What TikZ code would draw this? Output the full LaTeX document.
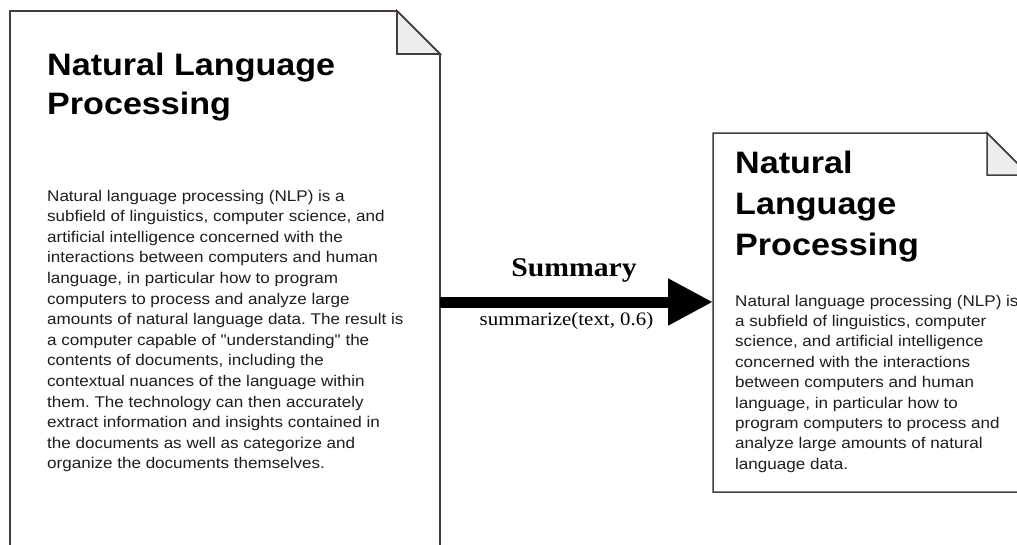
\documentclass[tikz,border=0pt]{standalone}
\usepackage{fontspec}
\usetikzlibrary{arrows.meta}
\newfontfamily\arialf[FakeStretch=1.1]{Liberation Sans}
\newfontfamily\timesf[FakeStretch=1.1]{Liberation Serif}
\definecolor{docline}{HTML}{453C3C}
\definecolor{foldfill}{HTML}{EEEEEE}
\definecolor{bodytext}{HTML}{1E1E1E}
\frenchspacing
\tikzset{
  docoutline/.style={draw=docline, line width=1.8pt, fill=white, line join=miter},
  foldtri/.style={draw=docline, line width=1.6pt, fill=foldfill, line join=miter},
  titletext/.style={anchor=base west, inner sep=0pt, font=\arialf\bfseries\fontsize{31}{40}\selectfont, text=black},
  bodytxt/.style={anchor=base west, inner sep=0pt, font=\arialf\fontsize{15.5}{20.6}\selectfont, text=bodytext},
  docbox/.style={inner sep=0pt, anchor=north west},
  bigarrow/.style={line width=11pt, -{Triangle[length=45pt, width=44pt]}, black}
}
\begin{document}
\begin{tikzpicture}[x=1pt, y=-1pt]
\useasboundingbox (0,0) rectangle (1017,544);
\clip (0,0) rectangle (1017,544);
\fill[white] (0,0) rectangle (1017,544);
% left document
\node[docbox, minimum width=430pt, minimum height=570pt] (ldoc) at (10,11) {};
\draw[docoutline] (10,11) -- (397,11) -- (440,54) -- (440,600) -- (10,600) -- cycle;
\draw[foldtri] (397,11) -- (440,54) -- (397,54) -- cycle;
\node[titletext] (ltitle) at (47,75) {\parbox[t]{380pt}{\raggedright Natural Language\\[-0.5pt]Processing}};
\node[bodytxt] (lbody) at (47,201) {\parbox[t]{390pt}{\raggedright
Natural language processing (NLP) is a\\
subfield of linguistics, computer science, and\\
artificial intelligence concerned with the\\
interactions between computers and human\\
language, in particular how to program\\
computers to process and analyze large\\
amounts of natural language data. The result is\\
a computer capable of "understanding" the\\
contents of documents, including the\\
contextual nuances of the language within\\
them. The technology can then accurately\\
extract information and insights contained in\\
the documents as well as categorize and\\
organize the documents themselves.}};
% right document
\node[docbox, minimum width=316pt, minimum height=359pt] (rdoc) at (713,133) {};
\draw[docoutline, line width=1.5pt] (713,133) -- (987,133) -- (1029,175) -- (1029,492) -- (713,492) -- cycle;
\draw[foldtri, line width=1.5pt] (987,133) -- (1029,175) -- (987,175) -- cycle;
\node[titletext, font=\arialf\bfseries\fontsize{31}{41}\selectfont] (rtitle) at (735,173) {\parbox[t]{280pt}{\raggedright Natural\\Language\\Processing}};
\node[bodytxt, font=\arialf\fontsize{15.5}{20.4}\selectfont] (rbody) at (735,306) {\parbox[t]{300pt}{\raggedright
Natural language processing (NLP) is\\
a subfield of linguistics, computer\\
science, and artificial intelligence\\
concerned with the interactions\\
between computers and human\\
language, in particular how to\\
program computers to process and\\
analyze large amounts of natural\\
language data.}};
% arrow
\draw[bigarrow] (ldoc.east |- 0,302) -- (rdoc.west |- 0,302);
\node[anchor=base, inner sep=0pt, font=\timesf\bfseries\fontsize{27}{30}\selectfont] (sumlabel) at (574,276) {Summary};
\node[anchor=base, inner sep=0pt, font=\timesf\fontsize{19}{22}\selectfont] (funclabel) at (566.5,325) {summarize(text, 0.6)};
\end{tikzpicture}
\end{document}
